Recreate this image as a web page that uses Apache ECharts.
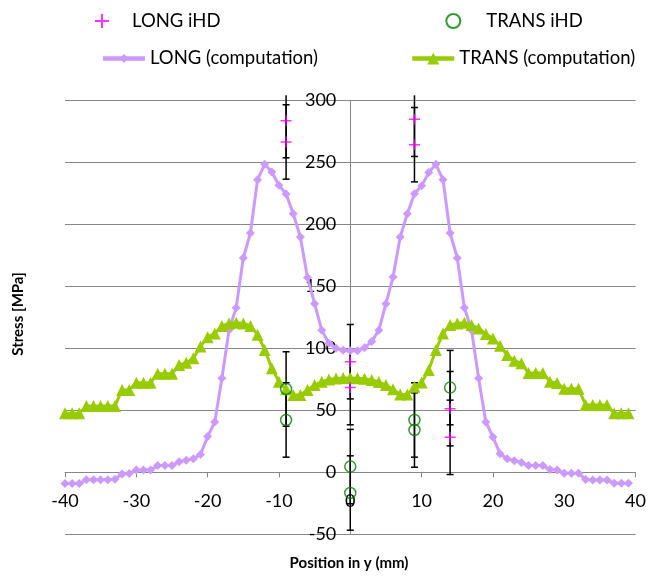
<!DOCTYPE html>
<html><head><meta charset="utf-8">
<script src="https://cdn.jsdelivr.net/npm/echarts@6/dist/echarts.min.js"></script>
<style>html,body{margin:0;padding:0;background:#fff}#c{width:649px;height:576px}</style>
</head><body><div id="c"></div>
<script>
// ---- data ----
const positions = [-40,-39,-38,-37,-36,-35,-34,-33,-32,-31,-30,-29,-28,-27,-26,-25,-24,-23,-22,-21,
  -20,-19,-18,-17,-16,-15,-14,-13,-12,-11,-10,-9,-8,-7,-6,-5,-4,-3,-2,-1,
  0,1,2,3,4,5,6,7,8,9,10,11,12,13,14,15,16,17,18,19,
  20,21,22,23,24,25,26,27,28,29,30,31,32,33,34,35,36,37,38,39];
const longComputation = [-9,-9,-9,-6,-6,-6,-6,-5.6,-1.3,-1,1.9,1.9,1.9,5.4,5.4,5.4,8.6,9.7,11,14.3,
  28.8,40.6,75.8,114.8,132.8,172.8,193,236,248.4,242.2,231.5,224.5,208.6,189.8,157,136,114.5,104,100,98.5,
  98,98.1,100.5,105.4,114.5,136,157.5,189.8,208.6,224.7,231,241.7,248.4,236,193,172.8,132.8,114.8,75.8,40.6,
  28.5,15,11,9.4,8,5.4,5.4,5.4,2.2,1.9,-0.8,-0.8,-0.8,-5.8,-6.2,-6.2,-6.2,-8.9,-8.9,-8.9];
const transComputation = [47.6,47.6,47.6,53.5,53.5,53.5,53.5,53.5,66.4,66.4,72.3,72.3,72.3,79.5,79.5,79.5,86.6,88.4,92,101.5,
  109,112,118,120,120.7,120,118,111,98.7,84,73,67,62.4,62.4,66.4,70.4,73,74.8,75.6,76,
  76,75.9,75.5,74.5,72.8,70.4,67,62.7,62.7,69,72.5,82.5,98.7,112,118.8,120,120.7,118.8,116,111.5,
  108,102,94.5,90,88,80,80,80,73,72,67.3,67.3,67.3,54.3,54.3,54.3,54.3,47.6,47.6,47.6];
const longIhdX = [-9,-9,0,0,9,9,14,14];
const longIhdY = [283.6,266.4,89.2,68.3,284.7,264.2,51.3,28.2];
const transIhdX = [-9,-9,0,0,9,9,14];
const transIhdY = [67.2,42.2,4.6,-16.7,42.2,34.1,68.3];
const ihdError = 30;
const xTickValues = [-40,-30,-20,-10,0,10,20,30,40];
const yTickValues = [-50,0,50,100,150,200,250,300];

// ---- chart ----
const FONT = 'Lato';
const chart = echarts.init(document.getElementById('c'), null, {renderer:'canvas'});
const pair = (xs, ys) => xs.map((x,i)=>[x, ys[i]]);

function errorBars(xs, ys, err, name) {
  return {
    type:'custom', name, silent:true, clip:false, z:3,
    data: xs.map((x,i)=>[x, ys[i]-err, ys[i]+err]),
    renderItem(params, api) {
      const x = api.value(0);
      const lo = api.coord([x, api.value(1)]);
      const hi = api.coord([x, api.value(2)]);
      const cs = params.coordSys;
      const topLimit = cs.y - 5, botLimit = cs.y + cs.height + 5;
      const yTop = Math.max(hi[1], topLimit), yBot = Math.min(lo[1], botLimit);
      const st = {stroke:'#000', lineWidth:1.5};
      const cw = 3.5;
      const ch = [{type:'line', shape:{x1:lo[0],y1:yBot,x2:lo[0],y2:yTop}, style:st}];
      if (hi[1] >= topLimit) ch.push({type:'line', shape:{x1:hi[0]-cw,y1:hi[1],x2:hi[0]+cw,y2:hi[1]}, style:st});
      if (lo[1] <= botLimit) ch.push({type:'line', shape:{x1:lo[0]-cw,y1:lo[1],x2:lo[0]+cw,y2:lo[1]}, style:st});
      return {type:'group', children:ch};
    }
  };
}

const lt = (padLeft) => ({fontFamily:FONT, fontSize:18.5, color:'#000', padding:[0,0,0,padLeft]});
const X_LABEL_GAP = 20, Y_LABEL_GAP = 14;
const option = {
  animation:false,
  backgroundColor:'#fff',
  textStyle:{fontFamily:FONT},
  grid:{left:65, right:10.5, top:100.3, bottom:41.7, containLabel:false},
  legend:[
    {data:['LONG iHD'], left:94, top:11.5, padding:0, itemWidth:18, itemHeight:14,
      itemStyle:{borderWidth:2}, textStyle:lt(16)},
    {data:['TRANS iHD'], left:445.3, top:11.5, padding:0, itemWidth:18, itemHeight:14,
      itemStyle:{borderWidth:2}, textStyle:lt(19)},
    {data:['LONG (computation)'], left:100.7, top:49, padding:0, itemWidth:42, itemHeight:11,
      lineStyle:{width:4.5}, textStyle:lt(0)},
    {data:['TRANS (computation)'], left:410, top:49, padding:0, itemWidth:42, itemHeight:15,
      lineStyle:{width:4.5}, textStyle:lt(0)}
  ],
  xAxis:{
    type:'value', min:xTickValues[0], max:xTickValues[xTickValues.length-1], interval:10,
    axisLine:{show:true, onZero:true, lineStyle:{color:'#868686', width:1}},
    axisTick:{show:true, inside:false, length:5, lineStyle:{color:'#868686'}},
    axisLabel:{fontFamily:FONT, fontSize:18, color:'#000', margin:X_LABEL_GAP},
    splitLine:{show:false}
  },
  yAxis:{
    type:'value', min:yTickValues[0], max:yTickValues[yTickValues.length-1], interval:50,
    axisLine:{show:true, onZero:true, lineStyle:{color:'#868686', width:1}},
    axisTick:{show:true, length:5, lineStyle:{color:'#868686'}},
    axisLabel:{fontFamily:FONT, fontSize:18, color:'#000', margin:Y_LABEL_GAP},
    splitLine:{show:true, lineStyle:{color:'#888', width:1}}
  },
  graphic:[
    {type:'text', x:18, y:314, rotation:Math.PI/2,
      style:{text:'Stress [MPa]', fontFamily:FONT, fontSize:15, fontWeight:'bold', fill:'#000', align:'center', verticalAlign:'middle'}},
    {type:'text', x:349, y:563,
      style:{text:'Position in y (mm)', fontFamily:FONT, fontSize:15, fontWeight:'bold', fill:'#000', align:'center', verticalAlign:'middle'}}
  ],
  series:[
    {name:'LONG (computation)', type:'line', data:pair(positions, longComputation), z:4,
      symbol:'diamond', symbolSize:9, showAllSymbol:true,
      itemStyle:{color:'#cc99ff'}, lineStyle:{color:'#cc99ff', width:3}},
    {name:'TRANS (computation)', type:'line', data:pair(positions, transComputation), z:4,
      symbol:'triangle', symbolSize:12, showAllSymbol:true,
      itemStyle:{color:'#99cc00'}, lineStyle:{color:'#99cc00', width:3}},
    errorBars(longIhdX, longIhdY, ihdError, 'errLong'),
    errorBars(transIhdX, transIhdY, ihdError, 'errTrans'),
    {name:'LONG iHD', type:'scatter', data:pair(longIhdX, longIhdY), z:6,
      symbol:'path://M0,5L10,5M5,0L5,10', symbolSize:11,
      itemStyle:{color:'rgba(0,0,0,0)', borderColor:'#ff00ff', borderWidth:1.5}},
    {name:'TRANS iHD', type:'scatter', data:pair(transIhdX, transIhdY), z:6,
      symbol:'circle', symbolSize:11,
      itemStyle:{color:'rgba(0,0,0,0)', borderColor:'#008000', borderWidth:1.5}}
  ]
};
chart.setOption(option);

// Axis labels sit next to the axis lines drawn at zero (as in the reference):
// shift them from the grid edge to the zero lines using the chart's own scale.
const corner = chart.convertToPixel({gridIndex:0}, [xTickValues[0], yTickValues[0]]);
const zero = chart.convertToPixel({gridIndex:0}, [0, 0]);
chart.setOption({
  xAxis:{axisLabel:{margin: X_LABEL_GAP - (corner[1] - zero[1])}},
  yAxis:{axisLabel:{margin: Y_LABEL_GAP - (zero[0] - corner[0])}}
});
</script></body></html>
